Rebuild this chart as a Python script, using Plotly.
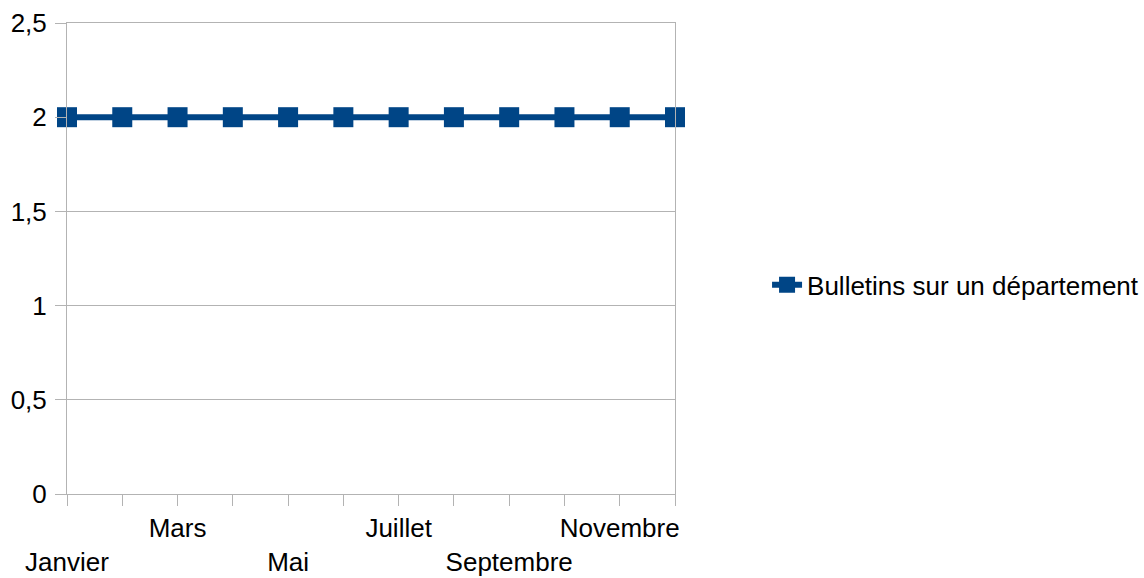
import plotly.graph_objects as go

months = ["Janvier", "Février", "Mars", "Avril", "Mai", "Juin", "Juillet",
          "Août", "Septembre", "Octobre", "Novembre", "Décembre"]
values = [2, 2, 2, 2, 2, 2, 2, 2, 2, 2, 2, 2]
series_name = "Bulletins sur un département"
y_ticks = [0, 0.5, 1, 1.5, 2, 2.5]

# staggered labels: every other month shown, alternating rows
tick_text = []
for i, m in enumerate(months):
    if i % 2 == 1:
        tick_text.append("")
    elif i % 4 == 0:
        tick_text.append("<br>" + m)
    else:
        tick_text.append(m)

BLUE = "#004586"
GRID = "#b3b3b3"
FONT = "Liberation Sans"
FS = 26

fig = go.Figure()
fig.add_trace(go.Scatter(
    x=months, y=values, name=series_name, mode="lines+markers",
    line=dict(color=BLUE, width=6),
    marker=dict(symbol="square", size=20, color=BLUE, line=dict(width=0)),
    cliponaxis=False,
    showlegend=True,
))

fig.update_layout(
    width=1144, height=578,
    margin=dict(l=67, r=469, t=23, b=84, autoexpand=False),
    paper_bgcolor="white", plot_bgcolor="white",
    font=dict(family=FONT, size=FS, color="black"),
    separators=", ",
    showlegend=True,
    legend=dict(xref="container", yref="container",
                x=0.6705, y=0.507, xanchor="left", yanchor="middle",
                font=dict(family=FONT, size=FS, color="black"),
                bgcolor="rgba(0,0,0,0)", borderwidth=0),
    xaxis=dict(
        type="category", range=[0, 11], automargin=False,
        tickmode="array", tickvals=months, ticktext=tick_text,
        tickangle=0,
        showgrid=False, zeroline=False,
        showline=True, linecolor=GRID, linewidth=1, mirror=True,
        ticks="outside", ticklen=11, tickcolor=GRID, tickwidth=1,
        ticklabelstandoff=0,
        tickfont=dict(family=FONT, size=FS, color="black"),
    ),
    yaxis=dict(
        range=[0, 2.5], tickmode="array", tickvals=y_ticks, automargin=False,
        showgrid=True, gridcolor=GRID, gridwidth=1, zeroline=False,
        showline=True, linecolor=GRID, linewidth=1, mirror=True,
        ticks="outside", ticklen=11, tickcolor=GRID, tickwidth=1,
        ticklabelstandoff=3,
        tickfont=dict(family=FONT, size=FS, color="black"),
    ),
)

fig.write_html("out.html")
